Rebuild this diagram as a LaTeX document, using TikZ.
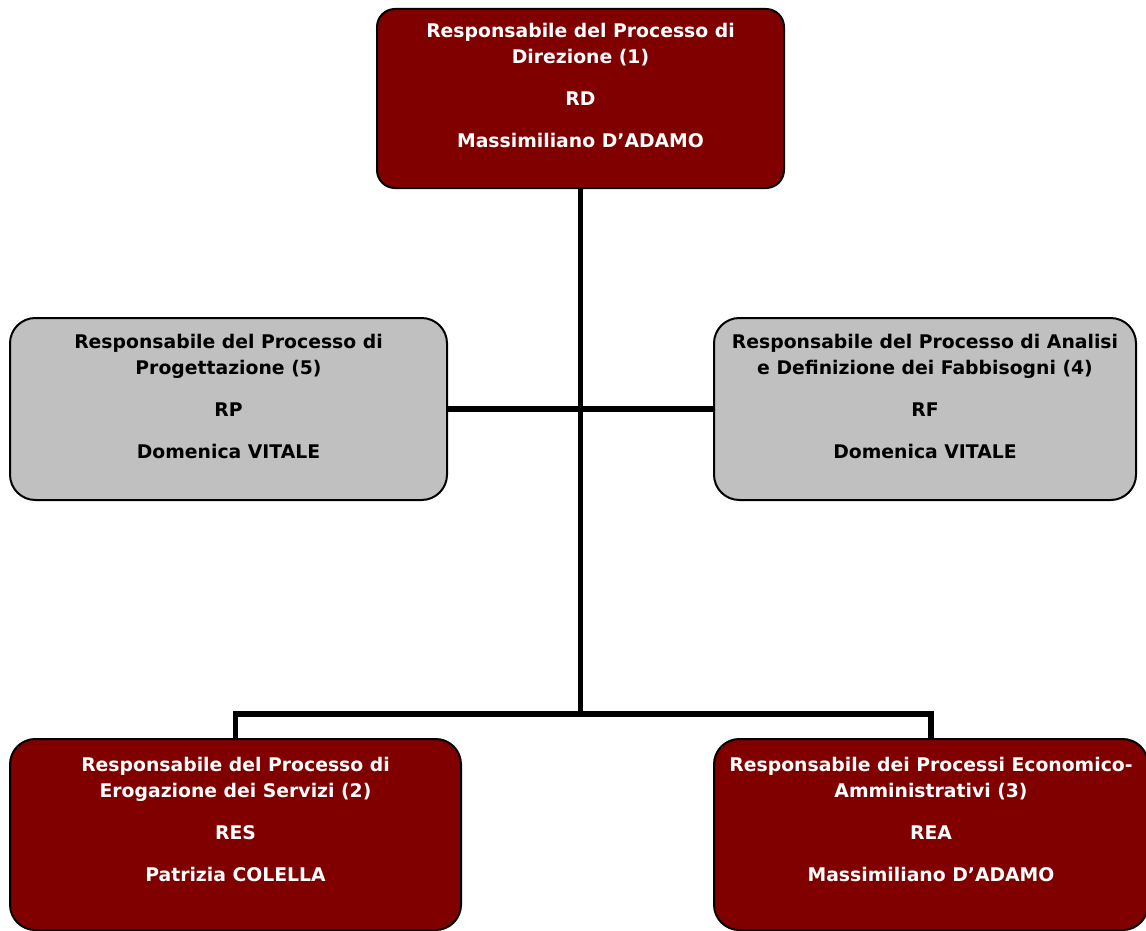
\documentclass[tikz,border=0pt]{standalone}
\usepackage{fontspec}
\newfontfamily\boxfont{DejaVu Sans}
\definecolor{darkred}{RGB}{128,0,0}
\definecolor{boxgray}{RGB}{192,192,192}
\begin{document}
\begin{tikzpicture}[x=0.75pt,y=-0.75pt,
  redbox/.style={draw=black,line width=1.5pt,fill=darkred,rectangle,inner sep=0pt},
  graybox/.style={draw=black,line width=1.5pt,fill=boxgray,rectangle,inner sep=0pt},
  boxtext/.style={anchor=north,inner sep=0pt,align=center,font=\boxfont\bfseries\fontsize{14.1}{19.5}\selectfont},
  conn/.style={line width=3.8pt,draw=black}]
\clip (0,0) rectangle (1146,931);
\fill[white] (0,0) rectangle (1146,931);
% boxes
\node[redbox,rounded corners=13.5pt,minimum width=305.25pt,minimum height=134.25pt] (n1) at (580.5,98.5) {};
\node[graybox,rounded corners=19pt,minimum width=327.75pt,minimum height=136.5pt] (n5) at (228.5,409) {};
\node[graybox,rounded corners=19pt,minimum width=316.5pt,minimum height=136.5pt] (n4) at (925,409) {};
\node[redbox,rounded corners=19pt,minimum width=338.25pt,minimum height=143.25pt] (n2) at (235.5,834.5) {};
\node[redbox,rounded corners=19pt,minimum width=325.5pt,minimum height=143.25pt] (n3) at (931,834.5) {};
% connectors
\coordinate (bus) at (580.5,715);
\draw[conn] (n1.south) -- (bus);
\draw[conn] (n5.east) -- (n4.west);
\draw[conn] (n2.north) -- ++(0,-24) -| (n3.north);
% texts
\node[boxtext,text=white] (t1) at (580.5,22.5) {Responsabile del Processo di\\Direzione (1)\\[12pt]RD\\[12pt]Massimiliano D’ADAMO};
\node[boxtext,text=black] (t5) at (228.5,333.5) {Responsabile del Processo di\\Progettazione (5)\\[12pt]RP\\[12pt]Domenica VITALE};
\node[boxtext,text=black] (t4) at (925,333.5) {Responsabile del Processo di Analisi\\e Definizione dei Fabbisogni (4)\\[12pt]RF\\[12pt]Domenica VITALE};
\node[boxtext,text=white] (t2) at (235.5,756.5) {Responsabile del Processo di\\Erogazione dei Servizi (2)\\[12pt]RES\\[12pt]Patrizia COLELLA};
\node[boxtext,text=white] (t3) at (931,756.5) {Responsabile dei Processi Economico-\\Amministrativi (3)\\[12pt]REA\\[12pt]Massimiliano D’ADAMO};
\end{tikzpicture}
\end{document}
